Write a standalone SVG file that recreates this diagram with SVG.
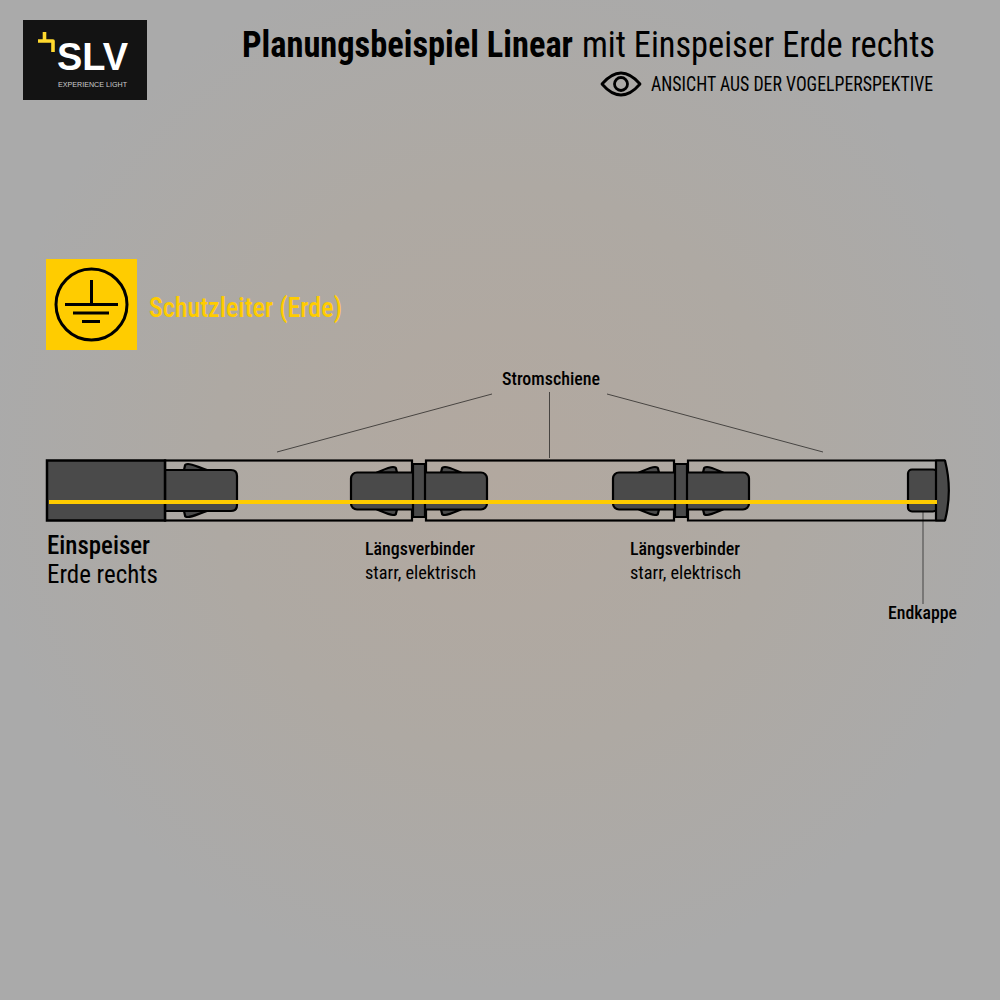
<svg xmlns="http://www.w3.org/2000/svg" width="1000" height="1000" viewBox="0 0 1000 1000">
<style>
text{font-family:"Liberation Sans Narrow","Roboto Condensed",Roboto,"Liberation Sans",sans-serif;fill:#000}
.m{font-weight:500}
.b{font-weight:700}
.body{fill:#4a4a4a;stroke:#000;stroke-width:2.2;stroke-linejoin:round}
.rail{fill:none;stroke:#000;stroke-width:2.2}
.lead{fill:none;stroke:#000;stroke-width:.6}
.sym{fill:none;stroke:#000;stroke-width:3}
</style>
<defs>
<radialGradient id="bg" cx="50%" cy="47%" r="52%">
<stop offset="0" stop-color="#b2a89f"/><stop offset=".55" stop-color="#aea9a3"/><stop offset="1" stop-color="#aaaaaa"/>
</radialGradient>
<g id="conn">
<path class="body" d="M46 8.500L45 4.500C45 3.500 44 3 42 3C38 3 33 5.500 26 8.500Z"/>
<path class="body" d="M46 45.500L45 49.500C45 50.500 44 51 42 51C38 51 33 48.500 26 45.500Z"/>
<path class="body" d="M90 8.500L91 4.500C91 3.500 92 3 94 3C98 3 103 5.500 110 8.500Z"/>
<path class="body" d="M90 45.500L91 49.500C91 50.500 92 51 94 51C98 51 103 48.500 110 45.500Z"/>
<rect class="body" x="0" y="8.500" width="136" height="37" rx="6"/>
<rect class="body" x="62" y="0" width="12" height="53"/>
</g>
</defs>
<rect width="1000" height="1000" fill="url(#bg)"/>
<g id="logo">
<rect x="23" y="20" width="124" height="80" fill="#131313"/>
<path d="M44.500 32V41H53V52M38 41H44.500" fill="none" stroke="#ffd92e" stroke-width="3.600" stroke-linejoin="round"/>
<text x="57" y="70" font-size="39" style="fill:#fff;font-family:'Liberation Sans',sans-serif;font-weight:700" textLength="71" lengthAdjust="spacingAndGlyphs">SLV</text>
<text x="58" y="87" font-size="7" style="fill:#ccc;font-family:'Liberation Sans',sans-serif" textLength="69" lengthAdjust="spacingAndGlyphs">EXPERIENCE LIGHT</text>
</g>
<g id="title">
<text x="242" y="57" font-size="36" class="b" textLength="331" lengthAdjust="spacingAndGlyphs">Planungsbeispiel Linear</text>
<text x="582" y="57" font-size="36" textLength="353" lengthAdjust="spacingAndGlyphs">mit Einspeiser Erde rechts</text>
</g>
<g id="subtitle">
<path d="M602 84C608 77 614 73 621 73C628 73 634 77 640 84C634 91 628 95 621 95C614 95 608 91 602 84Z" fill="none" stroke="#000" stroke-width="2.800" stroke-linejoin="round"/>
<circle cx="621" cy="84" r="6.500" fill="none" stroke="#000" stroke-width="2.800"/>
<text x="651" y="91" font-size="21" textLength="282" lengthAdjust="spacingAndGlyphs">ANSICHT AUS DER VOGELPERSPEKTIVE</text>
</g>
<g id="legend">
<rect x="46" y="259" width="91" height="91" fill="#ffcc00"/>
<circle class="sym" cx="91.500" cy="304.500" r="35.500"/>
<path class="sym" d="M91.500 280V304.500M65 304.500H118M73 313H109M82 321.500H100"/>
<text x="149" y="317" font-size="27" class="m" textLength="193" lengthAdjust="spacingAndGlyphs" style="fill:#ffcc00">Schutzleiter (Erde)</text>
</g>
<g id="connectors">
<path class="lead" d="M492 394L277 452M549.500 392V458M607 394L823 452M923 511V604"/>
</g>
<g id="rails">
<rect class="rail" x="165" y="460.500" width="247" height="60"/>
<rect class="rail" x="426" y="460.500" width="248" height="60"/>
<path class="rail" d="M945 460.500H688V520.500H945"/>
</g>
<g id="feeder">
<path class="body" d="M184 470L185 465.500C185 464.500 186 464 188 464C192 464 198 467 207 470Z"/>
<path class="body" d="M184 511L185 515.500C185 516.500 186 517 188 517C192 517 198 514 207 511Z"/>
<path class="body" d="M165 470H231Q237 470 237 476V505Q237 511 231 511H165Z"/>
<rect x="47" y="460.500" width="118" height="60" fill="#4a4a4a" stroke="#000" stroke-width="2.500"/>
</g>
<use id="connector-1" href="#conn" x="351" y="464"/>
<use id="connector-2" href="#conn" x="613" y="464"/>
<g id="endcap">
<rect class="body" x="908" y="469.500" width="29" height="42" rx="4"/>
<path class="body" d="M936 460.500H945C950 480 950 501 945 520.500H936Z"/>
</g>
<rect id="earth-line" x="49" y="500" width="888" height="4" fill="#ffcc00"/>
<g id="labels">
<text x="502" y="385" font-size="19" class="m" textLength="98" lengthAdjust="spacingAndGlyphs">Stromschiene</text>
<text x="47" y="554" font-size="26" class="m" textLength="103" lengthAdjust="spacingAndGlyphs">Einspeiser</text>
<text x="47" y="583" font-size="26" textLength="111" lengthAdjust="spacingAndGlyphs">Erde rechts</text>
<text x="365" y="555" font-size="19" class="m" textLength="110" lengthAdjust="spacingAndGlyphs">Längsverbinder</text>
<text x="365" y="579" font-size="19" textLength="111" lengthAdjust="spacingAndGlyphs">starr, elektrisch</text>
<text x="630" y="555" font-size="19" class="m" textLength="110" lengthAdjust="spacingAndGlyphs">Längsverbinder</text>
<text x="630" y="579" font-size="19" textLength="111" lengthAdjust="spacingAndGlyphs">starr, elektrisch</text>
<text x="888" y="619" font-size="19" class="m" textLength="69" lengthAdjust="spacingAndGlyphs">Endkappe</text>
</g>
</svg>
